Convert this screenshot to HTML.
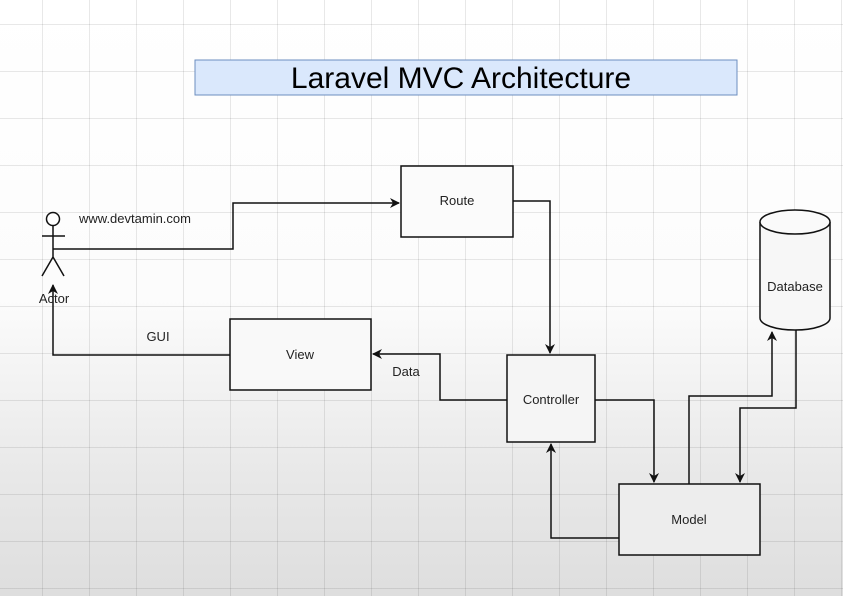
<!DOCTYPE html>
<html><head><style>
html,body{margin:0;padding:0}
body{width:843px;height:596px;overflow:hidden;position:relative;font-family:"Liberation Sans",sans-serif;
background:linear-gradient(to bottom,#ffffff 0%,#fcfcfc 50%,#e8e8e8 80%,#dedede 100%);}
.grid{position:absolute;inset:0;
background-image:linear-gradient(to right,rgba(0,0,0,0.09) 1px,transparent 1px),linear-gradient(to bottom,rgba(0,0,0,0.09) 1px,transparent 1px);
background-size:47px 47px;background-position:42px 24px;}
</style></head><body>
<div class="grid"></div>
<svg width="843" height="596" style="position:absolute;left:0;top:0" font-family="Liberation Sans, sans-serif">
<defs><marker id="a" markerWidth="10" markerHeight="10" refX="9" refY="5" orient="auto" markerUnits="userSpaceOnUse"><path d="M0,0 L10,5 L0,10 L3,5 z" fill="#111"/></marker></defs>
<rect x="195" y="60" width="542" height="35" fill="#dae8fc" stroke="#6c8ebf" stroke-width="1"/>
<text x="461" y="88" font-size="30" text-anchor="middle" fill="#000">Laravel MVC Architecture</text>
<g fill="none" stroke="#111" stroke-width="1.5">
<rect x="401" y="166" width="112" height="71" fill="#fbfbfb"/>
<rect x="230" y="319" width="141" height="71" fill="#f9f9f9"/>
<rect x="507" y="355" width="88" height="87" fill="#f5f5f5"/>
<rect x="619" y="484" width="141" height="71" fill="#ededed"/>
<path d="M760,222 L760,318 A35,12 0 0 0 830,318 L830,222" fill="#f7f7f7"/>
<ellipse cx="795" cy="222" rx="35" ry="12" fill="#fafafa"/>
<circle cx="53" cy="219" r="6.5" fill="#fff"/>
<path d="M53,226 V257 M42,236 H65 M53,257 L42,276 M53,257 L64,276"/>
<path d="M53,249 H233 V203 H399" marker-end="url(#a)"/>
<path d="M513,201 H550 V353" marker-end="url(#a)"/>
<path d="M507,400 H440 V354 H373" marker-end="url(#a)"/>
<path d="M230,355 H53 V285" marker-end="url(#a)"/>
<path d="M595,400 H654 V482" marker-end="url(#a)"/>
<path d="M689,484 V396 H772 V332" marker-end="url(#a)"/>
<path d="M796,330 V408 H740 V482" marker-end="url(#a)"/>
<path d="M619,538 H551 V444" marker-end="url(#a)"/>
</g>
<g font-size="13" fill="#222" text-anchor="middle">
<text x="457" y="205">Route</text>
<text x="300" y="359">View</text>
<text x="551" y="404">Controller</text>
<text x="689" y="524">Model</text>
<text x="795" y="291">Database</text>
<text x="54" y="303">Actor</text>
<text x="135" y="223">www.devtamin.com</text>
<text x="158" y="341">GUI</text>
<text x="406" y="376">Data</text>
</g>
</svg>
</body></html>
